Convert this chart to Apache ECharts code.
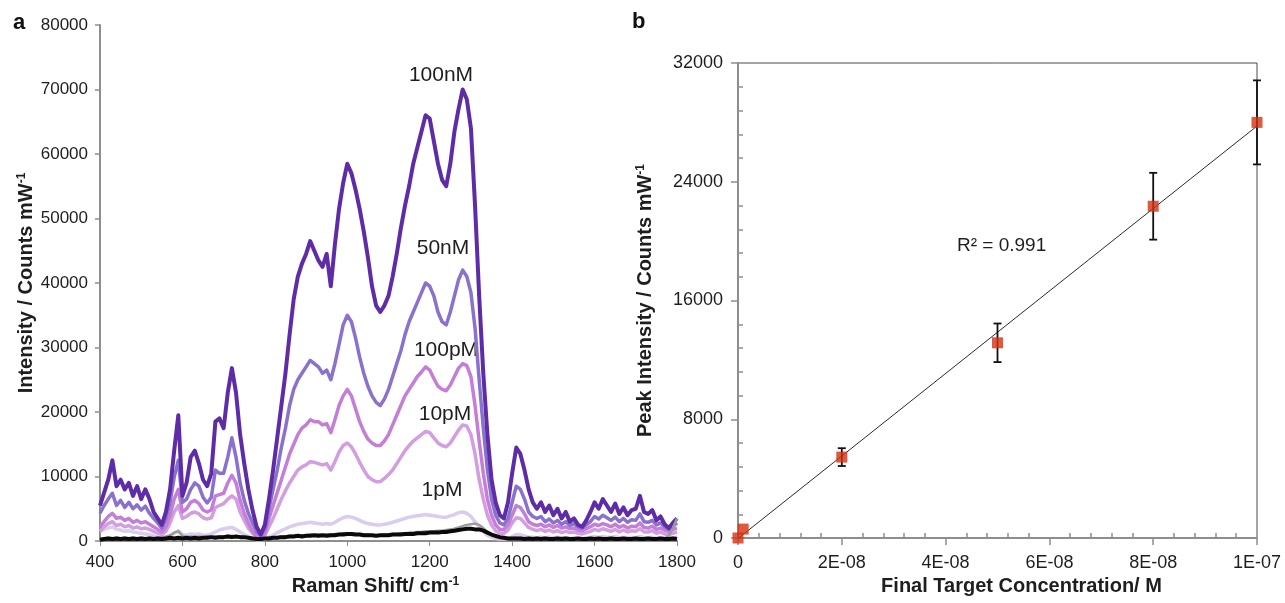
<!DOCTYPE html>
<html>
<head>
<meta charset="utf-8">
<script src="https://cdn.jsdelivr.net/npm/echarts/dist/echarts.min.js"></script>
<style>
  html, body { margin: 0; padding: 0; background: #ffffff; }
  #chart { width: 1285px; height: 603px; }
</style>
</head>
<body>
<div id="chart"></div>
<script>
// ---- Panel a: SERS spectra, sampled every 10 cm-1 from 400 to 1800 ----
const shiftStart = 400, shiftStep = 10, shiftEnd = 1800;
const ramanTicks = [400, 600, 800, 1000, 1200, 1400, 1600, 1800];
const intensityTicks = [0, 10000, 20000, 30000, 40000, 50000, 60000, 70000, 80000];

const spec100nM = [
  5500, 7500, 9500, 12500, 8500, 9500, 8000, 9000, 7000, 8500,          // 400
  6500, 8000, 6500, 4500, 3500, 2500, 4500, 8000, 14000, 19500,         // 500
  7000, 9000, 13000, 14000, 12000, 9500, 8500, 10500, 18500, 19000,     // 600
  17500, 23000, 26800, 23000, 16500, 12000, 8000, 4800, 2200, 1000,     // 700
  2500, 6500, 11000, 16000, 21000, 26000, 32000, 37500, 41000, 43000,   // 800
  44500, 46500, 45000, 43500, 42500, 44500, 39500, 46000, 51500, 55500, // 900
  58500, 57000, 54500, 51500, 48000, 44000, 39500, 36500, 35500, 36500, // 1000
  38000, 41000, 44500, 48500, 52000, 55000, 58500, 61000, 63500, 66000, // 1100
  65500, 62000, 58500, 56000, 55000, 58500, 63500, 67000, 70000, 68500, // 1200
  64000, 52000, 38000, 26000, 16500, 9500, 6000, 4000, 3500, 6000,      // 1300
  10500, 14500, 13500, 11000, 8000, 6000, 5000, 6000, 4500, 5500,       // 1400
  4000, 5000, 3500, 4500, 3000, 3500, 2500, 2200, 3200, 4500,           // 1500
  6000, 5000, 6500, 5500, 4500, 5800, 4200, 5200, 4000, 4800,           // 1600
  5000, 7000, 4500, 4200, 4800, 3200, 3800, 2600, 2000, 2800,           // 1700
  3500                                                                  // 1800
];
const spec50nM = [
  4300, 5500, 6500, 7400, 5500, 6300, 5200, 6000, 5000, 5600,
  4800, 5400, 4300, 3500, 2800, 2000, 3500, 6000, 9900, 12500,
  6000, 6500, 8000, 9000, 8500, 6800, 5900, 6800, 11000, 10500,
  10500, 13000, 16000, 13000, 9000, 6300, 4300, 2800, 1400, 900,
  1800, 5000, 8000, 11000, 14500, 17500, 21000, 23500, 25000, 26000,
  27000, 28000, 27500, 27000, 26000, 26500, 25000, 27500, 30500, 33500,
  35000, 34000, 31500, 28500, 26000, 24000, 22500, 21500, 21000, 22000,
  23500, 25500, 27500, 29500, 32000, 34000, 35500, 37000, 38500, 40000,
  39500, 38000, 35500, 34000, 33500, 35500, 38000, 40500, 42000, 41000,
  38500, 33000, 25000, 17500, 11000, 6500, 4000, 2800, 2500, 3500,
  6000, 8500, 8000, 6500, 4500, 3800, 3500, 3800, 3000, 3400,
  2800, 3200, 2600, 3000, 2400, 2700, 2200, 2000, 2500, 3000,
  3800, 3400, 4000, 3600, 3200, 3700, 3000, 3500, 2900, 3300,
  3200, 4200, 3000, 2900, 3200, 2500, 2800, 2200, 1800, 2300,
  2800
];
const spec100pM = [
  2200, 3000, 3800, 4300, 3500, 3700, 3200, 3500, 2900, 3200,
  2800, 3000, 2600, 2200, 1800, 1400, 2200, 4000, 6500, 8000,
  4500, 5000, 6000, 6300, 5800, 4800, 4500, 4800, 7000, 7200,
  7400, 9000, 10200, 9000, 6300, 4300, 2800, 1500, 800, 600,
  1200, 3500, 5500, 7500, 9500, 11500, 13500, 15000, 16500, 17500,
  18000, 18800, 18500, 18500, 18000, 18200, 16800, 18800, 21000, 22500,
  23500, 22500, 20500, 18500, 17000, 15800, 15200, 14800, 14800, 15500,
  16500, 18000, 19500, 21000, 22500, 23500, 24500, 25500, 26200, 27000,
  26500, 25200, 24000, 23500, 23300, 24200, 25500, 26800, 27500, 27200,
  25500, 21000, 15500, 10500, 6500, 4000, 2500, 1800, 1800, 2500,
  4000, 5500, 5200, 4200, 3000, 2600, 2400, 2600, 2200, 2500,
  2100, 2400, 2000, 2200, 1900, 2000, 1700, 1600, 1900, 2200,
  2600, 2400, 2700, 2500, 2200, 2600, 2100, 2400, 2000, 2300,
  2200, 2800, 2100, 2000, 2300, 1800, 2000, 1700, 1500, 1800,
  2000
];
const spec10pM = [
  1500, 2200, 2700, 3000, 2400, 2600, 2200, 2400, 2000, 2200,
  1900, 2000, 1800, 1500, 1200, 1000, 1500, 2800, 4500, 5500,
  3500, 3800, 4300, 4500, 4200, 3600, 3400, 3600, 5200, 5500,
  5800, 6500, 7000, 6500, 4500, 3200, 2000, 1200, 700, 500,
  800, 2200, 3500, 5000, 6500, 7800, 9000, 10000, 11000, 11500,
  11800, 12300, 12200, 12000, 11800, 12000, 11000, 12300, 13800, 14800,
  15200, 14600, 13500, 12200, 11000, 10000, 9500, 9200, 9200, 9700,
  10300, 11000, 12000, 13000, 14000, 14800, 15500, 16000, 16500, 17000,
  16800, 16000, 15200, 14800, 14600, 15200, 16200, 17200, 18000, 17800,
  16500, 13500, 9500, 6500, 4000, 2500, 1600, 1200, 1200, 1700,
  2800, 3600, 3500, 2800, 2100, 1800, 1600, 1800, 1500, 1700,
  1400, 1600, 1300, 1500, 1300, 1400, 1200, 1100, 1300, 1500,
  1800, 1600, 1900, 1700, 1500, 1800, 1400, 1700, 1400, 1600,
  1500, 1900, 1400, 1400, 1600, 1200, 1400, 1100, 1000, 1200,
  1400
];
const spec1pM = [
  1500, 1800, 2000, 2200, 1800, 1700, 1500, 1600, 1400, 1300,
  1200, 1100, 1000, 800, 600, 400, 500, 800, 1200, 1600,
  1000, 900, 1100, 1000, 1100, 900, 900, 1100, 1400, 1700,
  1900, 2000, 2100, 1800, 1400, 1000, 700, 400, 200, 200,
  300, 600, 900, 1300, 1600, 1900, 2200, 2400, 2600, 2700,
  2800, 2900, 2800, 2700, 2600, 2700, 2600, 2900, 3300, 3600,
  3800, 3700, 3500, 3200, 2900, 2700, 2600, 2500, 2500, 2600,
  2700, 2900, 3100, 3300, 3500, 3700, 3800, 3900, 4000, 4100,
  4000, 3900, 3800, 3700, 3700, 3900, 4100, 4400, 4500, 4300,
  3800, 3000, 2200, 1500, 900, 600, 400, 300, 300, 400,
  700, 1000, 1000, 800, 600, 600, 500, 600, 500, 600,
  500, 600, 500, 500, 400, 500, 400, 400, 500, 600,
  700, 600, 700, 600, 600, 700, 500, 600, 500, 600,
  500, 700, 500, 500, 600, 400, 500, 400, 400, 500,
  600
];
const specControl = [
  300, 400, 500, 400, 500, 400, 500, 400, 500, 400,
  500, 400, 500, 400, 500, 600, 700, 900, 1300, 1500,
  800, 600, 700, 600, 700, 600, 700, 600, 700, 700,
  700, 800, 800, 700, 700, 600, 500, 400, 300, 300,
  400, 500, 500, 600, 700, 700, 800, 800, 900, 900,
  900, 1000, 900, 1000, 900, 1000, 1000, 1100, 1100, 1200,
  1200, 1200, 1100, 1100, 1000, 1000, 900, 900, 900, 1000,
  1000, 1100, 1100, 1200, 1200, 1300, 1300, 1400, 1400, 1500,
  1500, 1500, 1600, 1600, 1700, 1800, 1900, 2100, 2300, 2500,
  2600, 2700, 2500, 2000, 1400, 900, 600, 400, 400, 400,
  500, 500, 500, 400, 400, 400, 400, 400, 400, 400,
  300, 300, 300, 300, 300, 300, 300, 300, 300, 300,
  300, 300, 300, 300, 300, 300, 300, 300, 300, 300,
  300, 300, 300, 300, 300, 400, 300, 400, 800, 2000,
  3500
];
const specBlank = [
  200, 300, 400, 300, 400, 300, 400, 300, 400, 300,
  400, 300, 400, 300, 400, 300, 400, 500, 400, 500,
  400, 500, 400, 500, 400, 500, 500, 600, 500, 600,
  600, 700, 600, 700, 600, 600, 500, 400, 300, 300,
  400, 400, 500, 500, 600, 600, 700, 700, 800, 700,
  800, 800, 900, 800, 900, 800, 900, 900, 1000, 1000,
  1100, 1100, 1000, 1000, 900, 900, 900, 800, 900, 900,
  900, 1000, 1000, 1000, 1100, 1100, 1100, 1200, 1200, 1200,
  1300, 1300, 1300, 1400, 1400, 1500, 1600, 1700, 1800, 1900,
  1900, 1800, 1800, 1600, 1300, 1000, 800, 600, 500, 400,
  400, 400, 400, 300, 400, 300, 400, 300, 400, 300,
  300, 400, 300, 400, 300, 300, 400, 300, 300, 400,
  300, 400, 300, 300, 400, 300, 300, 400, 300, 300,
  400, 300, 300, 400, 300, 300, 400, 300, 300, 400,
  300
];

// ---- Panel b: calibration, concentration in nM (axis shown in M) ----
const concNM = [0, 1, 20, 50, 80, 100];
const peakIntensity = [0, 600, 5450, 13150, 22350, 28000];
const peakError = [0, 0, 600, 1300, 2250, 2830];
const concTickLabels = ['0', '2E-08', '4E-08', '6E-08', '8E-08', '1E-07'];
const peakTicks = [0, 8000, 16000, 24000, 32000];
const r2Text = 'R\u00b2 = 0.991';

const shift = [];
for (let s = shiftStart; s <= shiftEnd; s += shiftStep) shift.push(s);
const pairs = vals => vals.map((v, i) => [shift[i], v]);

// least-squares trend line through the calibration points
const n = concNM.length;
const mx = concNM.reduce((a, b) => a + b, 0) / n;
const my = peakIntensity.reduce((a, b) => a + b, 0) / n;
let sxy = 0, sxx = 0;
for (let i = 0; i < n; i++) {
  sxy += (concNM[i] - mx) * (peakIntensity[i] - my);
  sxx += (concNM[i] - mx) * (concNM[i] - mx);
}
const slope = sxy / sxx, icpt = my - slope * mx;
const trend = [[0, icpt], [100, icpt + slope * 100]];

const FONT = "'Liberation Sans', Arial, sans-serif";
const TXT = '#1e1e1e';
const plain = v => String(Math.round(v));

const chart = echarts.init(document.getElementById('chart'), null, { renderer: 'canvas' });

function lineSeries(name, vals, color, width, z) {
  return {
    name, type: 'line', xAxisIndex: 0, yAxisIndex: 0,
    data: pairs(vals), showSymbol: false, symbol: 'none',
    lineStyle: { color, width, join: 'round' }, z,
    animation: false, silent: true
  };
}

const supRich = { sup: { fontSize: 12, fontWeight: 'bold', fontFamily: FONT, color: TXT, verticalAlign: 'top' } };

const option = {
  backgroundColor: '#ffffff',
  animation: false,
  grid: [
    { left: 100, top: 25, width: 577, height: 516, outerBoundsMode: 'none', containLabel: false },
    { left: 738, top: 63, width: 519, height: 475, outerBoundsMode: 'none', containLabel: false,
      show: true, borderColor: '#4a4a4a', borderWidth: 1, backgroundColor: 'transparent' }
  ],
  xAxis: [
    {
      gridIndex: 0, type: 'value', min: ramanTicks[0], max: ramanTicks[ramanTicks.length - 1], interval: 200,
      name: 'Raman Shift/ cm{sup|-1}', nameLocation: 'middle', nameGap: 35, nameMoveOverlap: false,
      nameTextStyle: { fontFamily: FONT, fontSize: 20, fontWeight: 'bold', color: TXT, padding: [0, 26, 0, 0], rich: supRich },
      axisLine: { show: true, onZero: false, lineStyle: { color: '#8e8e8e', width: 2 } },
      axisTick: { show: true, length: 5, lineStyle: { color: '#8e8e8e', width: 1 } },
      axisLabel: { fontFamily: FONT, fontSize: 17, color: TXT, margin: 13, showMinLabel: true, showMaxLabel: true, hideOverlap: false, formatter: plain },
      splitLine: { show: false }
    },
    {
      gridIndex: 1, type: 'value', min: 0, max: 100, interval: 20,
      name: 'Final Target Concentration/ M', nameLocation: 'middle', nameGap: 38, nameMoveOverlap: false,
      nameTextStyle: { fontFamily: FONT, fontSize: 20, fontWeight: 'bold', color: TXT, padding: [0, 0, 0, 48] },
      axisLine: { show: true, onZero: false, lineStyle: { color: '#8e8e8e', width: 2 } },
      axisTick: { show: true, length: 7, lineStyle: { color: '#8e8e8e', width: 1.5 } },
      minorTick: { show: true, splitNumber: 5, length: -5, lineStyle: { color: '#8e8e8e', width: 1.5 } },
      axisLabel: {
        fontFamily: FONT, fontSize: 18, color: TXT, margin: 16, showMinLabel: true, showMaxLabel: true, hideOverlap: false,
        formatter: v => concTickLabels[Math.round(v / 20)]
      },
      splitLine: { show: false }
    }
  ],
  yAxis: [
    {
      gridIndex: 0, type: 'value', min: intensityTicks[0], max: intensityTicks[intensityTicks.length - 1], interval: 10000,
      name: 'Intensity / Counts mW{sup|-1}', nameLocation: 'middle', nameGap: 64, nameMoveOverlap: false,
      nameTextStyle: { fontFamily: FONT, fontSize: 20, fontWeight: 'bold', color: TXT, rich: supRich },
      axisLine: { show: true, onZero: false, lineStyle: { color: '#8e8e8e', width: 2 } },
      axisTick: { show: true, length: 5, lineStyle: { color: '#8e8e8e', width: 1.5 } },
      axisLabel: { fontFamily: FONT, fontSize: 17, color: TXT, margin: 12, showMinLabel: true, showMaxLabel: true, hideOverlap: false, formatter: plain },
      splitLine: { show: false }
    },
    {
      gridIndex: 1, type: 'value', min: peakTicks[0], max: peakTicks[peakTicks.length - 1], interval: 8000,
      name: 'Peak Intensity / Counts mW{sup|-1}', nameLocation: 'middle', nameGap: 83, nameMoveOverlap: false,
      nameTextStyle: { fontFamily: FONT, fontSize: 20, fontWeight: 'bold', color: TXT, rich: supRich },
      axisLine: { show: true, onZero: false, lineStyle: { color: '#8e8e8e', width: 2 } },
      axisTick: { show: true, length: 7, lineStyle: { color: '#8e8e8e', width: 1.5 } },
      minorTick: { show: true, splitNumber: 5, length: -5, lineStyle: { color: '#8e8e8e', width: 1.5 } },
      axisLabel: { fontFamily: FONT, fontSize: 18, color: TXT, margin: 15, showMinLabel: true, showMaxLabel: true, hideOverlap: false, formatter: plain },
      splitLine: { show: false }
    }
  ],
  graphic: [
    { type: 'text', left: 13, top: 12, style: { text: 'a', font: "bold 22px " + FONT, fill: '#111' } },
    { type: 'text', left: 632, top: 11, style: { text: 'b', font: "bold 22px " + FONT, fill: '#111' } },
    { type: 'text', x: 441, y: 75, style: { text: '100nM', font: "21px " + FONT, fill: TXT, align: 'center', verticalAlign: 'middle' } },
    { type: 'text', x: 443, y: 248, style: { text: '50nM', font: "21px " + FONT, fill: TXT, align: 'center', verticalAlign: 'middle' } },
    { type: 'text', x: 446, y: 350, style: { text: '100pM', font: "21px " + FONT, fill: TXT, align: 'center', verticalAlign: 'middle' } },
    { type: 'text', x: 445, y: 414, style: { text: '10pM', font: "21px " + FONT, fill: TXT, align: 'center', verticalAlign: 'middle' } },
    { type: 'text', x: 442, y: 490, style: { text: '1pM', font: "21px " + FONT, fill: TXT, align: 'center', verticalAlign: 'middle' } },
    { type: 'text', x: 957, y: 246, style: { text: r2Text, font: "19px " + FONT, fill: TXT, align: 'left', verticalAlign: 'middle' } }
  ],
  series: [
    lineSeries('1pM', spec1pM, '#d9ccef', 3.5, 2),
    lineSeries('10pM', spec10pM, '#d39de2', 3.5, 3),
    lineSeries('100pM', spec100pM, '#c47ed8', 3.5, 4),
    lineSeries('50nM', spec50nM, '#8a72cc', 3.5, 5),
    lineSeries('100nM', spec100nM, '#5e2ca6', 4, 6),
    lineSeries('control', specControl, '#9c9c9c', 2.5, 7),
    lineSeries('blank', specBlank, '#0a0a0a', 4, 8),
    {
      name: 'trend', type: 'line', xAxisIndex: 1, yAxisIndex: 1, data: trend,
      showSymbol: false, symbol: 'none', lineStyle: { color: '#2a2a2a', width: 1 }, z: 3, clip: true, silent: true
    },
    {
      name: 'error', type: 'custom', xAxisIndex: 1, yAxisIndex: 1, z: 4, silent: true,
      data: concNM.map((c, i) => [c, peakIntensity[i] - peakError[i], peakIntensity[i] + peakError[i]]),
      renderItem: (params, api) => {
        const lo = api.value(1), hi = api.value(2);
        if (hi - lo <= 0) return { type: 'group', children: [] };
        const a = api.coord([api.value(0), lo]);
        const b = api.coord([api.value(0), hi]);
        const cap = 4;
        const st = { stroke: '#111', lineWidth: 1.8 };
        return {
          type: 'group',
          children: [
            { type: 'line', shape: { x1: a[0], y1: a[1], x2: b[0], y2: b[1] }, style: st },
            { type: 'line', shape: { x1: a[0] - cap, y1: a[1], x2: a[0] + cap, y2: a[1] }, style: st },
            { type: 'line', shape: { x1: b[0] - cap, y1: b[1], x2: b[0] + cap, y2: b[1] }, style: st }
          ]
        };
      }
    },
    {
      name: 'peak', type: 'scatter', xAxisIndex: 1, yAxisIndex: 1, z: 5, silent: true,
      data: concNM.map((c, i) => [c, peakIntensity[i]]),
      symbol: 'rect', symbolSize: 11, itemStyle: { color: '#d5300f' }, clip: false
    }
  ]
};
chart.setOption(option);
</script>
</body>
</html>
